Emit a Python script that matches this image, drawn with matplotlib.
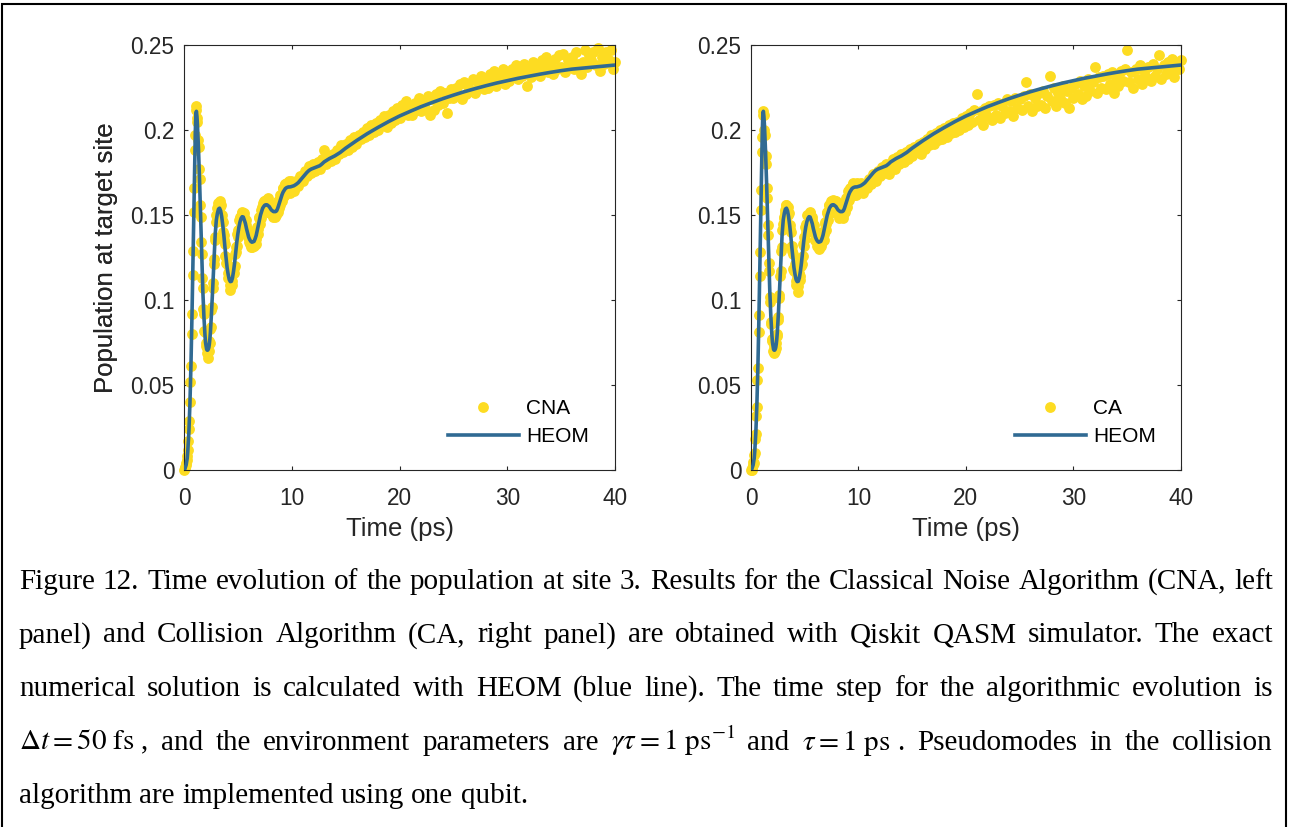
import numpy as np
import matplotlib
matplotlib.use("Agg")
import matplotlib.pyplot as plt
from matplotlib.patches import Rectangle

# ---------------- data ----------------
# HEOM exact solution (same curve in both panels)
heom_early = [0.000, 0.000, 0.001, 0.002, 0.003, 0.005, 0.007, 0.011, 0.016, 0.022,
              0.030, 0.039, 0.050, 0.063, 0.078, 0.094, 0.112, 0.131, 0.150, 0.168,
              0.185, 0.199, 0.209, 0.211, 0.208, 0.203, 0.196, 0.188, 0.179, 0.169,
              0.158, 0.147, 0.136, 0.125, 0.115, 0.105, 0.097, 0.090, 0.084, 0.079,
              0.075, 0.073, 0.071, 0.0705, 0.0705, 0.071, 0.072, 0.074, 0.077, 0.081,
              0.086, 0.092, 0.098, 0.105, 0.112, 0.119, 0.126, 0.133, 0.139, 0.143,
              0.147]                       # t = 0.00 ... 3.00 ps, step 0.05
heom_mid = [0.151, 0.1535, 0.154, 0.1525, 0.149, 0.144, 0.138, 0.131, 0.125, 0.119,
            0.115, 0.112, 0.1108, 0.111, 0.113, 0.117, 0.122, 0.128, 0.134, 0.139,
            0.143, 0.146, 0.148, 0.149, 0.1488, 0.147, 0.145, 0.142, 0.1395, 0.137,
            0.1355, 0.1345, 0.134, 0.1342, 0.1345, 0.136, 0.138, 0.141, 0.144, 0.147,
            0.150, 0.152, 0.154, 0.155, 0.1558, 0.156, 0.156, 0.1555, 0.155, 0.154,
            0.153, 0.1525, 0.152, 0.152, 0.152, 0.1525, 0.154, 0.156, 0.158, 0.160,
            0.162, 0.1635, 0.1645, 0.1655, 0.166, 0.1663, 0.1665, 0.1665, 0.1666, 0.1668]  # t = 3.1 ... 10.0, step 0.1
heom_late_t = [10.2, 10.4, 10.6, 10.8, 11.0, 11.2, 11.4, 11.6, 11.8, 12.0, 12.2, 12.4,
               12.6, 12.8, 13.0, 13.5, 14.0, 14.5, 15, 16, 17, 18, 19, 20, 21, 22, 23,
               24, 25, 26, 27, 28, 29, 30, 31, 32, 33, 34, 35, 36, 37, 38, 39, 40]
heom_late = [0.1672, 0.168, 0.169, 0.1705, 0.172, 0.1735, 0.175, 0.1762, 0.177, 0.1775,
             0.178, 0.1785, 0.179, 0.180, 0.1812, 0.1832, 0.1848, 0.1868, 0.1893, 0.1937,
             0.1978, 0.2015, 0.2050, 0.2082, 0.2110, 0.2137, 0.2161, 0.2184, 0.2205, 0.2225,
             0.2243, 0.2260, 0.2276, 0.2290, 0.2304, 0.2316, 0.2328, 0.2339, 0.2349, 0.2358,
             0.2364, 0.2370, 0.2376, 0.2382]

# Classical Noise Algorithm (left panel)
cna_early = [0.000, 0.001, 0.002, 0.003, 0.004, 0.006, 0.008, 0.012, 0.017, 0.024,
             0.029, 0.040, 0.052, 0.061, 0.080, 0.092, 0.115, 0.129, 0.152, 0.166,
             0.188, 0.197, 0.212, 0.214, 0.207, 0.205, 0.194, 0.190, 0.177, 0.171,
             0.156, 0.149, 0.134, 0.127, 0.113, 0.107, 0.095, 0.092, 0.082, 0.081,
             0.073, 0.075, 0.069, 0.072, 0.066, 0.073, 0.070, 0.076, 0.075, 0.083,
             0.084, 0.094, 0.096, 0.107, 0.110, 0.121, 0.124, 0.135, 0.137, 0.146]   # t = 0 ... 2.95, step 0.05
cna_mid = [0.150, 0.147, 0.154, 0.150, 0.157, 0.152, 0.155, 0.158, 0.156, 0.150,
           0.147, 0.150, 0.146, 0.140, 0.135, 0.138, 0.133, 0.126, 0.122, 0.125,
           0.121, 0.116, 0.113, 0.117, 0.114, 0.109, 0.106, 0.112, 0.113, 0.109,
           0.111, 0.117, 0.119, 0.116, 0.120, 0.127, 0.131, 0.128, 0.132, 0.139,
           0.141, 0.137, 0.141, 0.147, 0.149, 0.144, 0.146, 0.151, 0.152, 0.147,
           0.147, 0.151, 0.149, 0.144, 0.142, 0.147, 0.144, 0.139, 0.137, 0.141,
           0.139, 0.134, 0.133, 0.138, 0.136, 0.131, 0.131, 0.137, 0.136, 0.132,
           0.132, 0.137, 0.138, 0.133, 0.136, 0.142, 0.143, 0.139, 0.142, 0.148,
           0.149, 0.145, 0.148, 0.153, 0.155, 0.151, 0.152, 0.157, 0.158, 0.153,
           0.153, 0.158, 0.159, 0.154, 0.157, 0.160, 0.152, 0.156, 0.157, 0.151,
           0.156, 0.152, 0.151, 0.155, 0.155, 0.150, 0.149, 0.154, 0.154, 0.149,
           0.150, 0.155, 0.155, 0.151, 0.152, 0.158, 0.159, 0.154, 0.156, 0.162,
           0.162, 0.158, 0.160, 0.166, 0.166, 0.161, 0.162, 0.168, 0.168, 0.163,
           0.164, 0.169, 0.169, 0.164, 0.164, 0.170, 0.168, 0.163, 0.165, 0.170]    # t = 3.00 ... 9.95, step 0.05
cna_late = [0.168, 0.164, 0.170, 0.167, 0.173, 0.170, 0.176, 0.173, 0.179, 0.175,
            0.180, 0.176, 0.181, 0.177, 0.183, 0.188, 0.180, 0.185, 0.182, 0.186,
            0.183, 0.188, 0.186, 0.191, 0.187, 0.192, 0.188, 0.194, 0.190, 0.196,
            0.192, 0.197, 0.195, 0.199, 0.196, 0.201, 0.197, 0.203, 0.199, 0.204,
            0.200, 0.206, 0.203, 0.208, 0.202, 0.209, 0.204, 0.211, 0.206, 0.213,
            0.207, 0.215, 0.210, 0.217, 0.209, 0.214, 0.209, 0.216, 0.212, 0.219,
            0.211, 0.217, 0.213, 0.220, 0.209, 0.218, 0.212, 0.221, 0.215, 0.223,
            0.216, 0.222, 0.210, 0.219, 0.224, 0.219, 0.225, 0.221, 0.227, 0.218,
            0.228, 0.221, 0.226, 0.223, 0.230, 0.222, 0.229, 0.226, 0.232, 0.224,
            0.230, 0.225, 0.233, 0.228, 0.235, 0.226, 0.232, 0.229, 0.236, 0.227,
            0.233, 0.229, 0.236, 0.231, 0.238, 0.230, 0.235, 0.232, 0.239, 0.226,
            0.236, 0.231, 0.240, 0.234, 0.238, 0.232, 0.241, 0.236, 0.243, 0.234,
            0.238, 0.233, 0.242, 0.236, 0.244, 0.237, 0.245, 0.234, 0.241, 0.238,
            0.243, 0.236, 0.246, 0.239, 0.233, 0.240, 0.247, 0.237, 0.244, 0.241,
            0.246, 0.238, 0.248, 0.235, 0.243, 0.239, 0.246, 0.241, 0.247, 0.236,
            0.240]                                                                   # t = 10.0 ... 40.0, step 0.2

# Collision Algorithm (right panel)
ca_early = [0.000, 0.000, 0.001, 0.003, 0.005, 0.004, 0.009, 0.010, 0.018, 0.021,
            0.032, 0.037, 0.053, 0.060, 0.081, 0.091, 0.114, 0.128, 0.153, 0.165,
            0.187, 0.196, 0.211, 0.209, 0.209, 0.200, 0.197, 0.185, 0.180, 0.166,
            0.160, 0.144, 0.138, 0.122, 0.117, 0.102, 0.099, 0.087, 0.086, 0.076,
            0.077, 0.070, 0.073, 0.069, 0.072, 0.070, 0.075, 0.072, 0.079, 0.080,
            0.088, 0.090, 0.101, 0.103, 0.114, 0.117, 0.129, 0.131, 0.141, 0.142]
ca_mid = [0.145, 0.149, 0.148, 0.153, 0.151, 0.156, 0.156, 0.150, 0.150, 0.155,
          0.151, 0.144, 0.142, 0.144, 0.140, 0.131, 0.129, 0.132, 0.127, 0.118,
          0.117, 0.121, 0.117, 0.111, 0.109, 0.114, 0.112, 0.105, 0.108, 0.115,
          0.116, 0.112, 0.114, 0.120, 0.125, 0.121, 0.126, 0.133, 0.137, 0.132,
          0.136, 0.143, 0.145, 0.140, 0.144, 0.150, 0.150, 0.145, 0.147, 0.152,
          0.151, 0.145, 0.145, 0.149, 0.147, 0.140, 0.140, 0.144, 0.141, 0.135,
          0.135, 0.139, 0.138, 0.132, 0.131, 0.137, 0.136, 0.130, 0.131, 0.137,
          0.137, 0.132, 0.134, 0.140, 0.139, 0.135, 0.139, 0.145, 0.146, 0.141,
          0.145, 0.151, 0.152, 0.147, 0.150, 0.156, 0.156, 0.151, 0.153, 0.158,
          0.158, 0.152, 0.154, 0.159, 0.158, 0.153, 0.153, 0.158, 0.158, 0.152,
          0.152, 0.157, 0.156, 0.150, 0.148, 0.154, 0.155, 0.149, 0.149, 0.155,
          0.153, 0.148, 0.150, 0.156, 0.157, 0.152, 0.154, 0.160, 0.160, 0.155,
          0.158, 0.164, 0.165, 0.159, 0.161, 0.166, 0.166, 0.162, 0.163, 0.169,
          0.168, 0.162, 0.163, 0.168, 0.167, 0.162, 0.164, 0.169, 0.168, 0.163]
ca_late = [0.165, 0.169, 0.163, 0.168, 0.166, 0.171, 0.168, 0.174, 0.170, 0.176,
           0.173, 0.178, 0.175, 0.180, 0.174, 0.179, 0.183, 0.177, 0.184, 0.180,
           0.186, 0.181, 0.187, 0.183, 0.189, 0.185, 0.190, 0.187, 0.192, 0.186,
           0.193, 0.189, 0.195, 0.191, 0.197, 0.192, 0.198, 0.194, 0.200, 0.195,
           0.201, 0.196, 0.203, 0.198, 0.204, 0.199, 0.205, 0.200, 0.207, 0.202,
           0.208, 0.203, 0.210, 0.205, 0.212, 0.221, 0.206, 0.211, 0.203, 0.213,
           0.208, 0.214, 0.206, 0.215, 0.209, 0.216, 0.207, 0.214, 0.210, 0.218,
           0.211, 0.217, 0.208, 0.219, 0.213, 0.218, 0.212, 0.220, 0.228, 0.214,
           0.221, 0.211, 0.219, 0.214, 0.222, 0.215, 0.223, 0.213, 0.220, 0.232,
           0.217, 0.225, 0.214, 0.222, 0.219, 0.226, 0.216, 0.223, 0.213, 0.225,
           0.219, 0.227, 0.221, 0.229, 0.218, 0.226, 0.220, 0.230, 0.223, 0.228,
           0.237, 0.222, 0.231, 0.225, 0.232, 0.224, 0.233, 0.227, 0.234, 0.222,
           0.231, 0.226, 0.235, 0.229, 0.236, 0.247, 0.228, 0.234, 0.225, 0.236,
           0.230, 0.238, 0.227, 0.235, 0.231, 0.237, 0.229, 0.239, 0.232, 0.236,
           0.244, 0.230, 0.238, 0.233, 0.240, 0.234, 0.242, 0.231, 0.239, 0.236,
           0.241]

x_ticks = [0, 10, 20, 30, 40]
y_ticks = [0, 0.05, 0.1, 0.15, 0.2, 0.25]
y_ticklabels = ["0", "0.05", "0.1", "0.15", "0.2", "0.25"]
panels = [("CNA", cna_early, cna_mid, cna_late), ("CA", ca_early, ca_mid, ca_late)]


def times(start, step, vals):
    return start + step * np.arange(len(vals))


heom_t = np.concatenate([times(0.0, 0.05, heom_early), times(3.1, 0.1, heom_mid),
                         np.array(heom_late_t, float)])
heom_p = np.concatenate([heom_early, heom_mid, heom_late])

# ---------------- figure ----------------
W, H = 1299, 827
fig = plt.figure(figsize=(W / 100, H / 100), dpi=100)
fig.patch.set_facecolor("white")

YELLOW = "#FDDC22"
BLUE = "#306A93"
AX_COL = "#262626"
SANS = ["Liberation Sans", "DejaVu Sans"]
SERIF = ["Liberation Serif", "DejaVu Serif"]
plt.rcParams["mathtext.fontset"] = "stix"

axes_px = [(184, 615), (751, 1180.7)]
top_px, bot_px = 45, 470

for (name, e, m, l), (x0, x1) in zip(panels, axes_px):
    ax = fig.add_axes([x0 / W, 1 - bot_px / H, (x1 - x0) / W, (bot_px - top_px) / H])
    st = np.concatenate([times(0.0, 0.05, e), times(3.0, 0.05, m), times(10.0, 0.2, l)])
    sp = np.concatenate([e, m, l])
    ax.plot(st, sp, "o", ms=7.8, mew=0, color=YELLOW, ls="none", clip_on=False,
            label=name, zorder=2)
    ax.plot(heom_t, heom_p, "-", color=BLUE, lw=2.6, label="HEOM", zorder=3,
            solid_joinstyle="round")
    ax.set_xlim(0, 40)
    ax.set_ylim(0, 0.25)
    ax.set_xticks(x_ticks)
    ax.set_xticklabels([str(v) for v in x_ticks])
    ax.set_yticks(y_ticks)
    ax.set_yticklabels(y_ticklabels)
    ax.tick_params(direction="in", length=3.2, width=0.8, colors=AX_COL,
                   labelsize=16.3, top=True, right=True)
    ax.tick_params(axis="x", pad=12)
    ax.tick_params(axis="y", pad=7)
    for lab in ax.get_xticklabels() + ax.get_yticklabels():
        lab.set_family(SANS)
    for s in ax.spines.values():
        s.set_color(AX_COL)
        s.set_linewidth(0.8)
    ax.set_xlabel("Time (ps)", fontsize=18.5, family=SANS, color=AX_COL)
    ax.set_ylabel("Population at target site", fontsize=18.5, family=SANS, color=AX_COL)
    wpx = x1 - x0
    ax.xaxis.set_label_coords(0.5, (bot_px - 517) / (bot_px - top_px))
    ax.yaxis.set_label_coords((118 - x0) / wpx, 0.5)
    leg = ax.legend(loc="upper left",
                    bbox_to_anchor=(264 / wpx, (bot_px - 399) / (bot_px - top_px)),
                    frameon=False, prop={"family": SANS, "size": 15},
                    handlelength=3.4, handletextpad=0.35, labelspacing=0.45,
                    borderpad=0, borderaxespad=0, numpoints=1)
    for t in leg.get_texts():
        t.set_color("black")

# ---------------- border around the figure ----------------
fig.add_artist(Rectangle((2.3 / W, -0.05), (1286 - 2.3) / W, 1.05 - 4.2 / H,
                         transform=fig.transFigure, fill=False, lw=1.5,
                         edgecolor="black", clip_on=False))

# ---------------- caption (justified) ----------------
cap_size = 21
renderer = fig.canvas.get_renderer()
left_px, right_px = 19, 1273
baselines = [589, 642.5, 696, 749.5, 803]
lines = [
    "Figure 12. Time evolution of the population at site 3. Results for the Classical Noise Algorithm (CNA, left".split(),
    "panel) and Collision Algorithm (CA, right panel) are obtained with Qiskit QASM simulator. The exact".split(),
    "numerical solution is calculated with HEOM (blue line). The time step for the algorithmic evolution is".split(),
    [r"$\Delta t = 50\ \mathrm{fs}$ ,", "and", "the", "environment", "parameters", "are",
     r"$\gamma\tau = 1\ \mathrm{ps}^{-1}$", "and", r"$\tau = 1\ \mathrm{ps}$ .",
     "Pseudomodes", "in", "the", "collision"],
    "algorithm are implemented using one qubit.".split(),
]
sp = fig.text(0, 0, "a a", fontsize=cap_size, family=SERIF)
sp2 = fig.text(0, 0, "aa", fontsize=cap_size, family=SERIF)
space_w = sp.get_window_extent(renderer).width - sp2.get_window_extent(renderer).width
sp.remove(); sp2.remove()
for i, (words, yb) in enumerate(zip(lines, baselines)):
    arts = [fig.text(0, 1 - yb / H, w, fontsize=cap_size, family=SERIF, color="black",
                     ha="left", va="baseline") for w in words]
    widths = [a.get_window_extent(renderer).width for a in arts]
    if i < 4:
        gap = max(space_w, (right_px - left_px - sum(widths)) / (len(words) - 1))
    else:
        gap = space_w
    x = left_px
    for a, w in zip(arts, widths):
        a.set_x(x / W)
        x += w + gap

fig.savefig("out.png", dpi=100)
